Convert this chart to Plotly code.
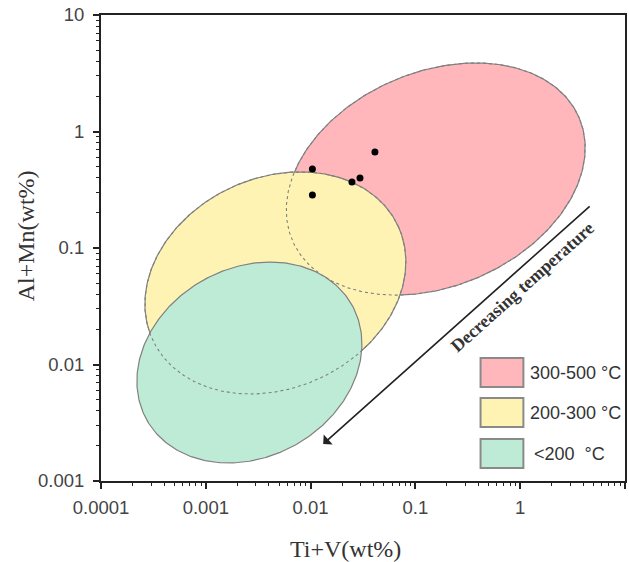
import numpy as np
import plotly.graph_objects as go

# ---------------- data ----------------
# Temperature fields (ellipses in log10 space): centre and two conjugate half-axis vectors (decades)
FIELD_LABELS = ["300-500 °C", "200-300 °C", "<200  °C"]
FIELD_FILLS = ["#FFB7BC", "#FFF3B4", "#BEEBD6"]
CENTER_LOG_X = [-0.806, -2.336, -2.584]
CENTER_LOG_Y = [-0.408, -1.300, -1.983]
HALF_U_X = [1.370, 1.174, 0.982]
HALF_U_Y = [0.523, 0.483, 0.489]
HALF_V_X = [-0.396, -0.415, -0.434]
HALF_V_Y = [0.848, 0.822, 0.710]

# Sample analyses
SAMPLE_TIV = [0.0104, 0.0104, 0.0248, 0.0296, 0.0411]
SAMPLE_ALMN = [0.476, 0.285, 0.369, 0.399, 0.667]

X_TICKS = [0.0001, 0.001, 0.01, 0.1, 1, 10]
X_TICK_TEXT = ["0.0001", "0.001", "0.01", "0.1", "1", "10"]
Y_TICKS = [0.001, 0.01, 0.1, 1, 10]
Y_TICK_TEXT = ["0.001", "0.01", "0.1", "1", "10"]

ARROW_TEXT = "Decreasing temperature"
X_TITLE = "Ti+V(wt%)"
Y_TITLE = "Al+Mn(wt%)"


def ellipse(i, n=361):
    t = np.linspace(0, 2 * np.pi, n)
    lx = CENTER_LOG_X[i] + HALF_U_X[i] * np.cos(t) + HALF_V_X[i] * np.sin(t)
    ly = CENTER_LOG_Y[i] + HALF_U_Y[i] * np.cos(t) + HALF_V_Y[i] * np.sin(t)
    return 10 ** lx, 10 ** ly


fig = go.Figure()
OUTLINE = "#808080"

for i in range(3):
    ex, ey = ellipse(i)
    fig.add_trace(go.Scatter(x=ex, y=ey, mode="lines", fill="toself",
                             fillcolor=FIELD_FILLS[i],
                             line=dict(color=OUTLINE, width=1.2),
                             hoverinfo="skip", showlegend=False))

# hidden outlines drawn dashed
for i in range(2):
    ex, ey = ellipse(i)
    fig.add_trace(go.Scatter(x=ex, y=ey, mode="lines",
                             line=dict(color=OUTLINE, width=1.1, dash="3px,3px"),
                             hoverinfo="skip", showlegend=False))

fig.add_trace(go.Scatter(x=SAMPLE_TIV, y=SAMPLE_ALMN, mode="markers",
                         marker=dict(color="black", size=7),
                         showlegend=False))

PW, PH, L, T = 526, 466, 101, 15


def px(xp):
    return (xp - L) / PW


def py(yp):
    return (T + PH - yp) / PH


# arrow
fig.add_annotation(x=-1.880, y=-2.682, ax=0.677, ay=-0.631,
                   xref="x", yref="y", axref="x", ayref="y",
                   text="", showarrow=True, arrowhead=1, arrowsize=1.4,
                   arrowwidth=1.6, arrowcolor="#222")
fig.add_annotation(x=px(524), y=py(287), xref="paper", yref="paper",
                   xanchor="center", yanchor="middle",
                   text="<b>" + ARROW_TEXT + "</b>", showarrow=False,
                   textangle=-41.8,
                   font=dict(family="Liberation Serif", size=18, color="#333"))

# custom legend
box_tops = [358, 398, 439]
for i in range(3):
    y0 = box_tops[i]
    fig.add_shape(type="rect", xref="paper", yref="paper",
                  x0=px(482), x1=px(525), y0=py(y0 + 29), y1=py(y0),
                  fillcolor=FIELD_FILLS[i], line=dict(color="#8a8a8a", width=2))
    fig.add_annotation(x=px(530 + (4 if i == 2 else 0)), y=py(y0 + 15),
                       xref="paper", yref="paper", xanchor="left", yanchor="middle",
                       text=FIELD_LABELS[i], showarrow=False,
                       font=dict(family="Liberation Sans", size=18, color="#333"))

# axis titles
fig.add_annotation(x=px(346), y=py(549), xref="paper", yref="paper",
                   xanchor="center", yanchor="middle", showarrow=False,
                   text=X_TITLE, font=dict(family="Liberation Serif", size=24, color="#333"))
fig.add_annotation(x=px(26), y=py(236), xref="paper", yref="paper",
                   xanchor="center", yanchor="middle", showarrow=False, textangle=-90,
                   text=Y_TITLE, font=dict(family="Liberation Serif", size=24, color="#333"))

fig.update_layout(
    width=629, height=562,
    margin=dict(l=L, r=2, t=T, b=81),
    paper_bgcolor="white", plot_bgcolor="white",
    showlegend=False,
)

minor_x = [m * 10.0 ** e for e in range(-4, 1) for m in range(2, 10)]
minor_y = [m * 10.0 ** e for e in range(-3, 1) for m in range(2, 10)]

fig.update_xaxes(type="log", range=[-4, 1], tickvals=X_TICKS, ticktext=X_TICK_TEXT,
                 ticks="outside", ticklen=6, tickwidth=1.5, tickcolor="#222",
                 showline=True, linecolor="#222", linewidth=2, mirror=True,
                 showgrid=False, zeroline=False, ticklabelstandoff=3,
                 tickfont=dict(family="Liberation Sans", size=18.5, color="#444"),
                 minor=dict(ticks="outside", ticklen=3, tickwidth=1.2, tickcolor="#222",
                            tickvals=minor_x, showgrid=False))
fig.update_yaxes(type="log", range=[-3, 1], tickvals=Y_TICKS, ticktext=Y_TICK_TEXT,
                 ticks="outside", ticklen=6, tickwidth=1.5, tickcolor="#222",
                 showline=True, linecolor="#222", linewidth=2, mirror=True,
                 showgrid=False, zeroline=False, ticklabelstandoff=5,
                 tickfont=dict(family="Liberation Sans", size=18.5, color="#444"),
                 minor=dict(ticks="outside", ticklen=3, tickwidth=1.2, tickcolor="#222",
                            tickvals=minor_y, showgrid=False))

fig.write_html("out.html")
